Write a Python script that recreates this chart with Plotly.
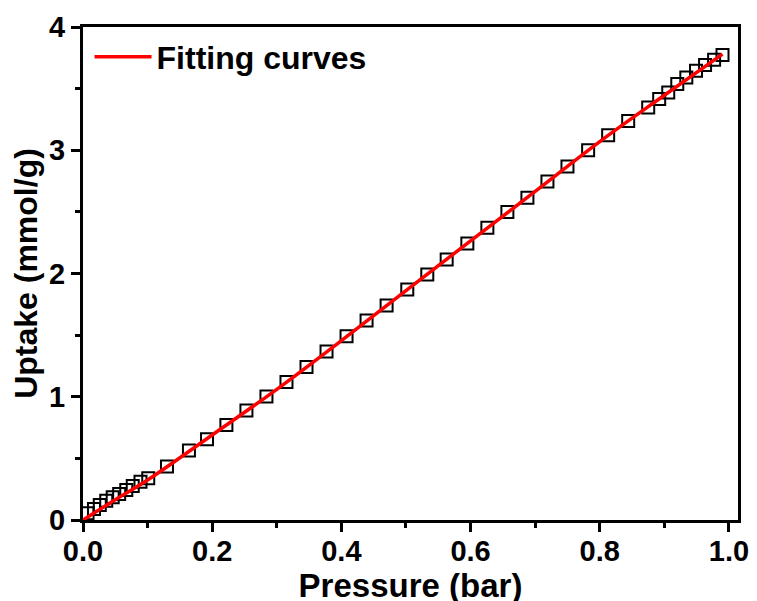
import plotly.graph_objects as go

# Measured data points (open squares)
pressure = [0.007, 0.017, 0.026, 0.036, 0.046, 0.056, 0.067, 0.077, 0.089, 0.101,
            0.130, 0.164, 0.192, 0.222, 0.253, 0.284, 0.315, 0.346, 0.377, 0.408,
            0.439, 0.470, 0.502, 0.533, 0.563, 0.595, 0.626, 0.657, 0.688, 0.719,
            0.750, 0.782, 0.813, 0.844, 0.875, 0.892, 0.906, 0.920, 0.934, 0.949,
            0.963, 0.977, 0.990]
uptake = [0.054, 0.089, 0.122, 0.157, 0.184, 0.211, 0.244, 0.276, 0.311, 0.339,
          0.434, 0.564, 0.656, 0.770, 0.889, 1.003, 1.120, 1.241, 1.368, 1.490,
          1.618, 1.740, 1.870, 1.992, 2.114, 2.244, 2.371, 2.498, 2.615, 2.746,
          2.868, 3.000, 3.122, 3.238, 3.347, 3.415, 3.469, 3.537, 3.591, 3.645,
          3.691, 3.734, 3.772]

# Fitting curve
fit_pressure = [0.0, 0.05, 0.1, 0.2, 0.3, 0.4, 0.5, 0.6, 0.7, 0.8, 0.9, 0.99]
fit_uptake = [0.0, 0.165, 0.325, 0.69, 1.06, 1.455, 1.862, 2.265, 2.666, 3.07, 3.446, 3.78]

x_ticks = [0.0, 0.2, 0.4, 0.6, 0.8, 1.0]
x_ticklabels = ["0.0", "0.2", "0.4", "0.6", "0.8", "1.0"]
y_ticks = [0, 1, 2, 3, 4]
y_ticklabels = ["0", "1", "2", "3", "4"]

FONT = "Liberation Sans, Arial, sans-serif"

fig = go.Figure()
fig.add_trace(go.Scatter(
    x=pressure, y=uptake, mode="markers", showlegend=False,
    marker=dict(symbol="square-open", size=12, color="black", line=dict(width=2, color="black")),
))
fig.add_trace(go.Scatter(
    x=fit_pressure, y=fit_uptake, mode="lines", name="Fitting curves",
    line=dict(color="#ff0000", width=3.5, shape="spline"),
))

axis_common = dict(
    showline=True, linecolor="black", linewidth=3, mirror=True,
    ticks="outside", ticklen=9, tickwidth=2.5, tickcolor="black",
    showgrid=False, zeroline=False,
    tickfont=dict(family=FONT, size=29, color="black", weight="bold"),
)

fig.update_layout(
    width=757, height=601,
    margin=dict(l=75, r=27, t=19, b=89),
    paper_bgcolor="white", plot_bgcolor="white",
    xaxis=dict(
        range=[0, 1.014], tickvals=x_ticks, ticktext=x_ticklabels,
        ticklabelstandoff=-6, automargin=True,
        minor=dict(dtick=0.1, tick0=0, ticks="outside", ticklen=5, tickwidth=2.5, tickcolor="black"),
        title=dict(text="Pressure (bar)", standoff=3,
                   font=dict(family=FONT, size=33, color="black", weight="bold")),
        **axis_common,
    ),
    yaxis=dict(
        range=[0, 4], tickvals=y_ticks, ticktext=y_ticklabels, automargin=False,
        minor=dict(dtick=0.5, tick0=0, ticks="outside", ticklen=5, tickwidth=2.5, tickcolor="black"),
        title=dict(text="Uptake (mmol/g)",
                   font=dict(family=FONT, size=32, color="black", weight="bold")),
        **axis_common,
    ),
    legend=dict(
        x=0.01, y=0.995, xanchor="left", yanchor="top",
        bgcolor="rgba(0,0,0,0)", itemwidth=57,
        font=dict(family=FONT, size=32, color="black", weight="bold"),
    ),
)

fig.write_html("out.html")
